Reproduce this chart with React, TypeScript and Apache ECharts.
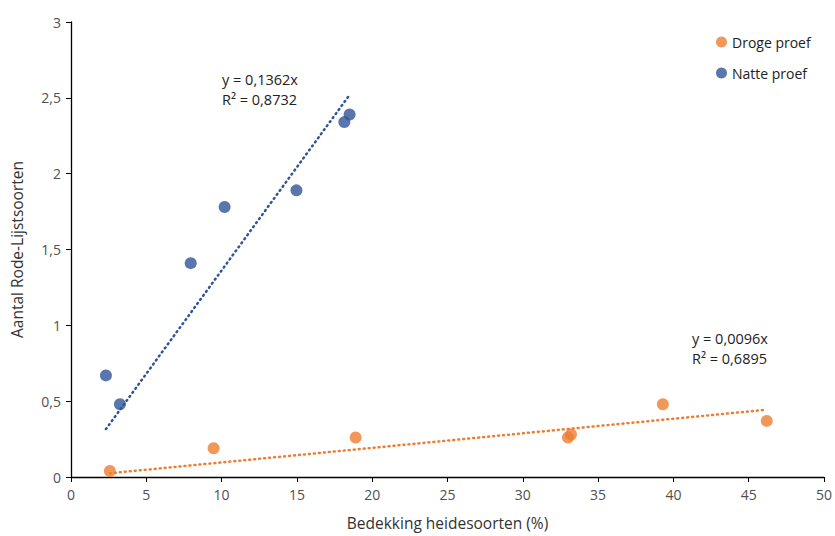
import React, { useEffect, useRef } from "react";
import * as echarts from "echarts";

const drogeX = [2.58, 9.47, 18.9, 33.0, 33.2, 39.3, 46.2];
const drogeY = [0.04, 0.19, 0.26, 0.26, 0.28, 0.48, 0.37];
const natteX = [2.32, 3.25, 7.95, 10.2, 14.97, 18.15, 18.5];
const natteY = [0.67, 0.48, 1.41, 1.78, 1.89, 2.34, 2.39];
const drogeSlope = 0.0096;
const natteSlope = 0.1362;
const drogeEq = ["y = 0,0096x", "R² = 0,6895"];
const natteEq = ["y = 0,1362x", "R² = 0,8732"];
const xTitle = "Bedekking heidesoorten (%)";
const yTitle = "Aantal Rode-Lijstsoorten";

const BLUE = "#2F5597";
const ORANGE = "#ED7D31";
const FONT = "'Open Sans', 'Noto Sans', sans-serif";

export default function App() {
  const ref = useRef<HTMLDivElement>(null);
  useEffect(() => {
    document.body.style.margin = "0";
    if (!ref.current) return;
    const chart = echarts.init(ref.current, undefined, { renderer: "svg" });
    const pts = (xs: number[], ys: number[]) => xs.map((x, i) => [x, ys[i]]);
    const trend = (xs: number[], k: number) => {
      const a = Math.min(...xs);
      const b = Math.max(...xs);
      return [
        [a, k * a],
        [b, k * b],
      ];
    };
    const fmt = (v: number) => String(v).replace(".", ",");
    chart.setOption({
      animation: false,
      backgroundColor: "#fff",
      textStyle: { fontFamily: FONT },
      grid: { left: 71, right: 9, top: 22, bottom: 57 },
      legend: {
        data: ["Droge proef", "Natte proef"],
        orient: "vertical",
        left: 711,
        top: 30,
        itemGap: 17,
        itemWidth: 11,
        itemHeight: 11,
        icon: "circle",
        textStyle: { fontSize: 14, color: "#222", fontFamily: FONT },
      },
      xAxis: {
        type: "value",
        min: 0,
        max: 50,
        interval: 5,
        name: xTitle,
        nameLocation: "middle",
        nameGap: 38,
        nameTextStyle: { fontSize: 15.5, color: "#333", fontFamily: FONT },
        axisLine: { show: true, lineStyle: { color: "#000", width: 1.3 } },
        axisTick: { show: true, length: 5, lineStyle: { color: "#000" } },
        axisLabel: { fontSize: 14, color: "#505050", margin: 10, formatter: fmt },
        splitLine: { show: false },
      },
      yAxis: {
        type: "value",
        min: 0,
        max: 3,
        interval: 0.5,
        name: yTitle,
        nameLocation: "middle",
        nameGap: 46,
        nameRotate: 90,
        nameTextStyle: { fontSize: 15.5, color: "#333", fontFamily: FONT },
        axisLine: { show: true, lineStyle: { color: "#000", width: 1.3 } },
        axisTick: { show: true, length: 5, lineStyle: { color: "#000" } },
        axisLabel: { fontSize: 14, color: "#505050", margin: 10, formatter: fmt },
        splitLine: { show: false },
      },
      series: [
        {
          name: "Droge proef",
          type: "scatter",
          symbolSize: 12,
          itemStyle: { color: ORANGE },
          data: pts(drogeX, drogeY),
          z: 3,
        },
        {
          name: "Natte proef",
          type: "scatter",
          symbolSize: 12,
          itemStyle: { color: BLUE },
          data: pts(natteX, natteY),
          z: 3,
        },
        {
          name: "Trend droge",
          type: "line",
          data: trend(drogeX, drogeSlope),
          symbol: "none",
          lineStyle: { color: ORANGE, width: 2.5, type: [1, 4], cap: "round" },
          z: 2,
        },
        {
          name: "Trend natte",
          type: "line",
          data: trend(natteX, natteSlope),
          symbol: "none",
          lineStyle: { color: BLUE, width: 2.5, type: [1, 4], cap: "round" },
          z: 2,
        },
      ],
      graphic: [
        {
          type: "text",
          left: 222,
          top: 69,
          style: { text: natteEq.join("\n"), fontSize: 14.5, lineHeight: 20, fill: "#222", fontFamily: FONT },
        },
        {
          type: "text",
          left: 692,
          top: 328,
          style: { text: drogeEq.join("\n"), fontSize: 14.5, lineHeight: 20, fill: "#222", fontFamily: FONT },
        },
      ],
    });
    return () => chart.dispose();
  }, []);
  return <div ref={ref} style={{ width: 835, height: 536 }} />;
}
